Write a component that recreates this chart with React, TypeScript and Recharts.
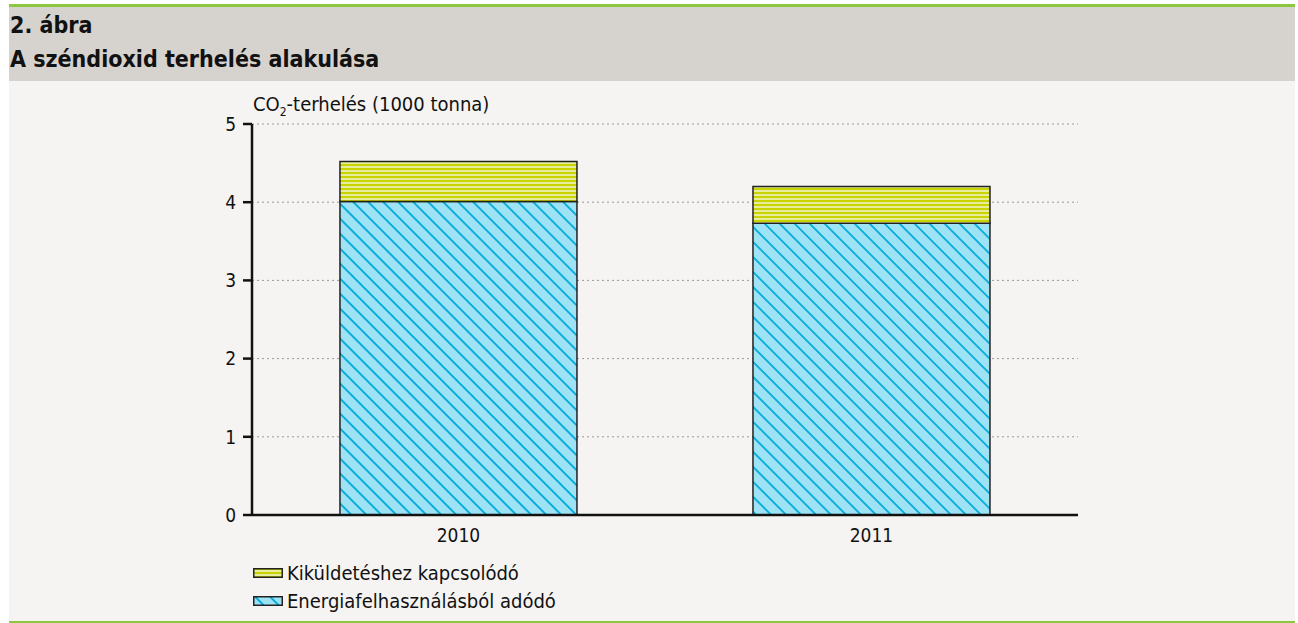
import React from 'react';
import { BarChart, Bar, XAxis, YAxis, CartesianGrid } from 'recharts';

const years = ['2010', '2011'];
const energia = [4.01, 3.73];
const kikuldetes = [0.51, 0.47];
const yTicks = [0, 1, 2, 3, 4, 5];
const titleLines = ['2. ábra', 'A széndioxid terhelés alakulása'];
const seriesNames = ['Kiküldetéshez kapcsolódó', 'Energiafelhasználásból adódó'];

const data = years.map((y, i) => ({ year: y, energia: energia[i], kikuldetes: kikuldetes[i] }));

const FONT = '"DejaVu Sans Condensed", "DejaVu Sans", sans-serif';
const BLUE_BG = '#9de2f5';
const BLUE_LINE = '#00a9da';
const YEL_BG = '#e6ed9c';
const YEL_LINE = '#c8d300';

const Patterns = ({ prefix }: { prefix: string }) => (
  <defs>
    <pattern id={`${prefix}blue`} patternUnits="userSpaceOnUse" width={10.6} height={10.6} patternTransform="rotate(-45)">
      <rect x={0} y={0} width={10.6} height={10.6} fill={BLUE_BG} />
      <line x1={1} y1={0} x2={1} y2={10.6} stroke={BLUE_LINE} strokeWidth={1.8} />
    </pattern>
    <pattern id={`${prefix}yellow`} patternUnits="userSpaceOnUse" width={8} height={4}>
      <rect x={0} y={0} width={8} height={4} fill={YEL_BG} />
      <rect x={0} y={0} width={8} height={2} fill={YEL_LINE} />
    </pattern>
  </defs>
);

const Swatch = ({ kind }: { kind: string }) => (
  <svg width={30} height={10} style={{ display: 'block' }}>
    <Patterns prefix={`lg${kind}`} />
    <rect x={0.75} y={0.75} width={28.5} height={8.5} fill={`url(#lg${kind}${kind})`} stroke="#222" strokeWidth={1.5} />
  </svg>
);

export default function App() {
  return (
    <div style={{ position: 'fixed', left: 0, top: 0, width: 1298, height: 623, background: '#ffffff', fontFamily: FONT, fontStretch: 'condensed', color: '#111' }}>
      <div style={{ position: 'absolute', left: 9, top: 4, width: 1286, height: 3, background: '#8dc63f' }} />
      <div style={{ position: 'absolute', left: 9, top: 7, width: 1286, height: 74, background: '#d6d2cd' }} />
      <div style={{ position: 'absolute', left: 9, top: 81, width: 1286, height: 540, background: '#f5f4f2' }} />
      <div style={{ position: 'absolute', left: 9, top: 621, width: 1286, height: 2, background: '#8dc63f' }} />
      <div style={{ position: 'absolute', left: 10, top: 8, fontWeight: 700, fontSize: 23, lineHeight: '34px', whiteSpace: 'nowrap' }}>
        {titleLines.map((t) => (
          <div key={t}>{t}</div>
        ))}
      </div>
      <div style={{ position: 'absolute', left: 253, top: 92, fontSize: 20, lineHeight: '24px', whiteSpace: 'nowrap' }}>
        CO<sub style={{ fontSize: 12, verticalAlign: '-5px', lineHeight: 0 }}>2</sub>-terhelés (1000 tonna)
      </div>
      <div style={{ position: 'absolute', left: 0, top: 0 }}>
        <BarChart
          width={1298}
          height={623}
          data={data}
          margin={{ top: 124, right: 220, bottom: 78, left: 192 }}
          barCategoryGap="21.3%"
        >
          <Patterns prefix="ch" />
          <CartesianGrid vertical={false} stroke="#9a9a9a" strokeDasharray="2 3" />
          <XAxis
            dataKey="year"
            height={30}
            axisLine={{ stroke: '#111', strokeWidth: 2.5 }}
            tickLine={false}
            tickSize={8}
            tickMargin={5.5}
            tick={{ fill: '#111', fontSize: 19, fontFamily: FONT, fontStretch: 'condensed' }}
          />
          <YAxis
            width={60}
            domain={[0, 5]}
            ticks={yTicks}
            interval={0}
            axisLine={{ stroke: '#111', strokeWidth: 2.5 }}
            tickLine={{ stroke: '#111', strokeWidth: 2.5 }}
            tickSize={9}
            tickMargin={7}
            tick={{ fill: '#111', fontSize: 19, fontFamily: FONT, fontStretch: 'condensed' }}
          />
          <Bar dataKey="energia" stackId="a" fill="url(#chblue)" stroke="#222" strokeWidth={1.5} isAnimationActive={false} />
          <Bar dataKey="kikuldetes" stackId="a" fill="url(#chyellow)" stroke="#222" strokeWidth={1.5} isAnimationActive={false} />
        </BarChart>
      </div>
      <div style={{ position: 'absolute', left: 253, top: 559, fontSize: 20, lineHeight: '28px', whiteSpace: 'nowrap' }}>
        <div style={{ display: 'flex', alignItems: 'center', gap: 4 }}>
          <Swatch kind="yellow" />
          <span>{seriesNames[0]}</span>
        </div>
        <div style={{ display: 'flex', alignItems: 'center', gap: 4 }}>
          <Swatch kind="blue" />
          <span>{seriesNames[1]}</span>
        </div>
      </div>
    </div>
  );
}
